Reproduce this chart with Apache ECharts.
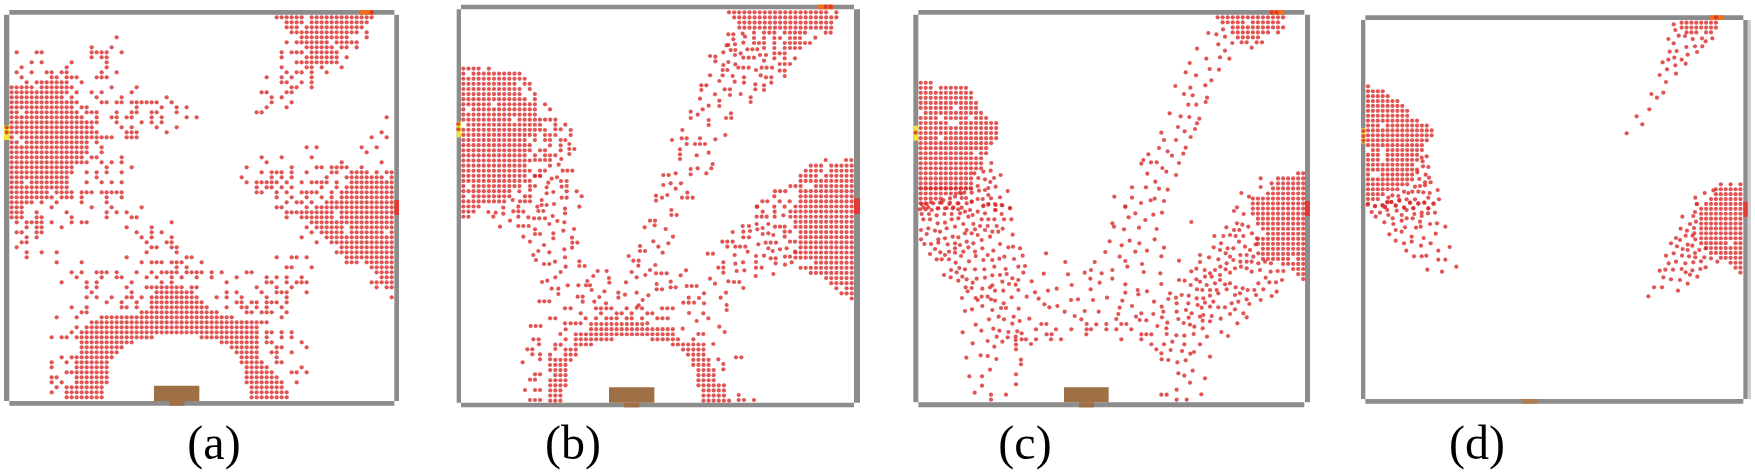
<!DOCTYPE html>
<html lang="en">
<head>
    <meta charset="UTF-8">
    <title>Scatter panels</title>
    <script src="https://cdn.jsdelivr.net/npm/echarts@6/dist/echarts.min.js"></script>
    <style>
        html, body { margin: 0; padding: 0; background: #fff; }
        #main { width: 1755px; height: 474px; }
    </style>
</head>
<body>
<div id="main"></div>
<script>
    // values: 3 units = 1 px of the panel's crop
    var panelLabels = ["(a)", "(b)", "(c)", "(d)"];

    // "row:cols" lists of the packed dot lattice
    var aRows = ["0:53-58 60-72","1:55-58 60-71","2:55-57 59-70","3:56-58 59-69 71","4:21 58-67 71","5:55 57-63 65-69","6:16 20 59-64 66 67 69",
        "7:1 5 6 16-19 22 54 56-58 60-65","8:16 18 19 54 59-65 67","9:4 6 12 19 57-65","10:2 11 19 54 59 60 62 66","11:1 4 7 8 10 11 18 21 55 57 58 60 63",
        "12:2 8 9 11-13 17-19 51 54 56 60","13:3 5-11 14 54 55 58 60","14:0-4 6-12 20 25 56 57 60","15:0-11 13 16 18 24 50 51 55 56","16:0-10 12 17 22 31 52 54",
        "17:0-13 18 19 21 22 24-29 32 52 56","18:0-12 14 15 25 30 33 35 51 55","19:0 1 3-13 15-17 21 24 25 28 29 33 49 50","20:0-14 17 20 21 23 24 28 30 35 37 75",
        "21:0-17 21 26 28 30","22:0-16 22 24 29 33","23:0-17 23-25 31 74","24:0 2-20 23-25 72 75","25:0 1 3-15 17","26:0-15 18 59 61 70 73","27:0-15 18 71",
        "28:0-14 16 17 22 50 54 60","29:0-15 18 20 22 51 66 74","30:0-12 19 24 47 56 61 62 64-67 70","31:0-12 15 17 19 22 50 52-54 56 59 64 65 68-71 73 75 76",
        "32:0-11 17 46 52 54 56 63 67-74 76","33:0-2 4-11 15 18 20 22 47 49-53 55 58 60-63 65 68-76","34:0-11 49 51 52 54 56 62 65 67-76",
        "35:0-7 9-12 14-16 18-22 49 50 53 55 58-61 64 66-76","36:0-8 10-12 14 19 22 53 56 59 62 64 66-76","37:0-4 6 9 14 19 55 57 58 60 63-76",
        "38:0-2 8 16 20 26 53 54 59 61-76","39:0-2 5 11 19 21 23 55-64 66-76","40:0-2 5 6 12 19 24 25 55 58-64 66-76","41:1 3-6 8 12 14 15 32 60-76",
        "42:3 5 6 10 23 28 59 61-66 68-76","43:1 2 5 6 25 28 30 60 62-66 68-74 76","44:3 5 26 28 32 58 63-76","45:2 3 27 31 32 61 64-76","46:1 28 29 32 33 66-76",
        "47:3 6 9 27 33 65-76","48:3 23 35 36 53 56 57 59 67-76","49:9 14 26 28-30 32-34 38 67-69 71-76","50:33 35 55 56 60 72-76",
        "51:12 14 17-19 21 25 28 30-33 35-38 40 42 47 48 73-76","52:13 18 21 22 27 29 32 34 37 40 45 51 53 55 58 74-76","53:10 15 17 24 30 32 43 51 52 55 57-59 72-76",
        "54:15 17 23 27-34 36 37 49 53 56 73 75 76","55:16 24 29-36 43 45 50 53-55 59","56:15 17 20 23 24 26 28-37 41 43 46 51 55 76",
        "57:19 22 25 28-38 45 46 48 49 51-53 55","58:12 15 22 23 25 28-39 43 46 47 49 51 54","59:14 15 26-41 47 48 50-52 55","60:9 13 18-44 54","61:16-51",
        "62:13 15-49","63:12 14-49 51 52 54 56","64:8 10 11 13-28 38-49 51 54 56","65:14-24 42-49 51 52 58","66:14-22 44-49 53 54 59","67:14-21 45-49 52 53 56",
        "68:10 12-20 46-49 53","69:8 11 13-19 46-50 53 54","70:8 13-19 47-51 58","71:11-19 47-52 56 57 59","72:8 9 13-19 47-53","73:8 10 13-19 47-54 57",
        "74:9 11-18 48-54","75:8 11-18 48-55","76:11-18 48-55"];

    var bRows = ["0:52-71 73","1:53-73","2:54-72","3:54-72",
        "11:0-3 5","12:0 2-11","13:0-12","14:0-10 12 13","15:0-11 13","16:0-11 14","17:0-12 14","18:0-5 7-14","19:0 2-14","20:0-14","21:0-9 11-18","22:1-15",
        "23:0-15","24:0-13","25:0-12 14","26:0-13","27:0-13","28:0-12","29:0-13","30:0-12 68-70 72-76","31:0-13 67-70 72-76","32:0-12 14 15 66-69 71-76",
        "33:0-11 13 66-69 70-76","34:0 2-11 64-66 69-76","35:0-9 61-63 66-76","36:0 2-9 66-76","37:0-8 66-76","38:0-3 65-76","39:0-2 64-76","40:0 1 64-76",
        "41:65-76","42:65-76","43:66-76","44:66-76","45:66-76","46:66-76","47:65-76","48:65-76","49:69-76","50:66-76","51:68-76","52:71-76","53:72-76",
        "54:73 75 76","55:74-76","56:76",
        "61:25-35","62:25-41","63:22-41","64:22-29 37-42","65:22-25 41-47","66:20-22 43-47","67:20-22 45-47","68:18-20 45-48","69:18-20 45-48","70:17-20 46-49",
        "71:18-20 46-49","72:17-20 46-49","73:17-20 46-51","74:17-19 47-51","75:17-19 47-51","76:17-19 47-52"];

    var cRows = ["0:59-72","1:60-64 66-71","2:62-72","3:62-69 71","4:63-67",
        "13:0-2","14:0-2 4-9","15:0-10","16:0-10","17:0-11","18:0-6 8-11","19:1-12","20:0-3 5-9 11-13","21:0-5 8-15","22:0-15","23:0-15","24:0-3 5-15","25:0-14",
        "26:0-13","27:0-10 12 13","28:0-12","29:0-12","30:0-12","31:0-10 75 76","32:0-10 71-76","33:0-10 71-76","34:0-10 70-76","35:0-8 69-76","36:0-4 66-76",
        "37:66-76","38:66-76","39:66-76","40:67-76","41:67-76","42:68-76","43:69-76","44:67-76","45:67-76","46:68-76","47:68-76","48:68-73 75 76","49:72-76",
        "50:74-76","51:75 76","52:76"];

    var dRows = ["0:64-71","1:64-71","2:65-67 69 70",
        "13:0","14:0-3","15:0-4","16:0-6","17:0-7","18:0-8","19:0-8","20:0-10","21:0-2 4-12","22:0-13","23:0-13","24:0-12","25:0-11","26:1 2 4-11","27:0-2 4-10",
        "28:0-2 4-10","29:0-9","30:0-10","31:0 3-9","32:0-9","33:0-8 72 74 76","34:0-6 71-76","35:0-3 71-76","36:0-2 70-76","37:0 69-76","38:68-76","39:68-76",
        "40:68-76","41:68-76","42:68-76","43:68-76","44:68-76","45:68-73 75 76","46:69-76","47:70-76","48:72-76","49:74-76","50:75 76","51:76"];

    // loose dots, off the lattice
    var bLoose = [[835,103],[850,103],[878,101],[912,98],[942,98],[958,98],[973,98],[1004,98],[1020,98],[1035,98],[1050,98],[1065,98],[1127,98],[1142,98],
        [850,118],[885,110],[912,114],[942,114],[973,114],[990,114],[1020,114],[1035,114],[1050,114],[1096,113],[835,135],[855,133],[880,128],[912,129],[927,129],[942,129],[973,129],[1004,129],[1020,129],[1035,129],[1050,129],[1065,129],[1080,129],
        [830,136],[842,150],[856,150],[892,148],[907,148],[922,148],[942,144],[973,144],[1004,144],[1020,144],[1035,144],[1050,144],[820,157],[855,165],[872,160],[930,165],[948,165],[973,160],[989,160],[1004,160],
        [780,168],[796,170],[880,173],[896,173],[912,173],[973,175],[1004,175],[1035,175],[796,184],[835,186],[942,182],[856,193],[820,195],[818,210],[832,210],[865,203],[880,203],[896,203],[918,210],[935,203],[950,203],[966,203],[989,192],[1004,192],[1020,192],[989,212],[1004,212],[1004,228],
        [780,226],[818,226],[848,228],[882,232],[932,226],[948,232],[964,232],[808,243],[854,245],[882,248],[964,248],[754,256],[769,256],[916,253],[942,256],[754,270],[824,268],[840,268],[916,268],[942,270],[795,283],[840,285],[872,282],[750,296],[902,292],[808,302],[902,306],[776,317],[808,318],[758,328],[722,335],[743,344],[843,340],[722,354],[828,354],[844,354],[776,360],[776,375],[697,390],[826,405],[666,420],[695,415],[710,415],[750,415],[796,418],[710,432],[735,432],[750,432],[765,432],[690,448],[690,463],[776,458],[740,466],[690,477],[788,492],[722,507],[743,505],[784,505],[640,525],[656,525],[677,520],[722,523],[769,520],[640,555],[662,550],[693,550],[677,566],[712,578],[618,587],[652,585],[636,593],[696,593],[712,593],[728,593],[618,602],[664,630],
        [285,313],[300,328],[316,374],[346,374],[285,390],[316,388],[332,388],[362,390],[255,405],[285,405],[300,405],[316,405],[362,405],[285,420],[300,420],[332,420],[346,420],[300,436],[332,436],[358,432],[270,451],[285,451],[332,451],[358,447],[373,447],[255,466],[285,466],[300,466],[316,466],[358,462],[255,480],[270,480],[285,480],[300,480],[334,477],[300,497],[326,494],[270,512],[285,512],[338,512],[352,512],[367,512],[255,528],[270,528],[305,536],[321,532],[225,543],[295,548],[333,543],[350,543],[240,558],[255,558],[290,562],[350,558],[335,560],[208,574],[240,570],[290,580],[310,576],[350,574],[380,574],[225,589],[240,589],[275,600],[335,593],[350,593],[395,589],[188,600],[210,604],[225,604],[240,604],[160,623],[205,620],[262,620],[275,615],[290,615],[312,612],[345,626],[388,620],
        [1127,480],[1188,480],[1204,480],[973,589],[937,604],[952,604],[989,604],[1019,604],[922,620],[973,620],[1004,620],
        [115,636],[137,638],[160,641],[190,634],[205,634],[220,635],[130,650],[180,662],[205,650],[235,652],[252,655],[268,655],[285,655],[265,633],[280,633],[308,648],[345,640],[322,663],[343,667],[298,672],[150,680],[205,678],[220,678],[236,678],[255,688],[372,687],[340,692],[255,702],[270,702],[310,700],[310,715],[220,710],[240,725],[366,713],[367,728],[382,728],[366,743],[282,735],[343,748],[265,753],[298,757],[250,765],[258,780],[345,772],[315,785],[282,792],[298,792],[388,784],[347,800],[388,798],[404,798],[332,816],[316,832],[292,842],[276,846],[305,866],[325,866],[325,882],[268,904],[283,904],[298,904],[345,925],[362,925],[300,955],[316,955],[345,970],[362,970],[377,970],[392,970],
        [664,645],[680,645],[600,662],[615,662],[614,676],[584,682],[647,687],[669,710],[610,724],[655,730],[570,738],[625,740],[570,753],[585,753],[638,758],[536,768],[550,782],[566,782],[565,797],[616,795],[600,810],[545,816],[470,813],[443,813],[708,811],[430,828],[560,832],[586,825],[618,820],[634,820],[650,820],[692,826],[477,834],[412,843],[478,848],[528,847],[662,845],[353,856],[385,856],[408,856],[420,856],[425,870],[620,852],[636,868],[620,868],[662,862],[677,862],[710,858],[725,858],[740,858],[463,874],[505,878],[525,884],[505,893],[560,878],[595,886],[448,891],[383,890],[398,890],[433,905],[398,905],[468,910],[578,900],[700,908],[716,893],[716,908],[732,908],[747,894],[762,880],[762,910],[812,893],[828,878],
        [438,925],[453,925],[469,925],[484,925],[530,925],[560,923],[566,916],[576,925],[636,925],[652,925],[668,925],[830,915],[830,930],[717,939],[760,940],[392,940],[453,940],[500,940],[515,940],[545,940],[592,940],[607,940],[407,955],[438,955],[469,955],[484,955],[500,955],[530,955],[545,955],[576,955],[622,955],[637,955],[653,955],[775,955],[740,963],[592,970],[347,988],[698,986],[808,980],[331,1002],[745,1002],[760,1002],[824,996],[347,1018],[730,1018],[316,1034],[332,1034],[790,1032],[316,1047],[714,1064],[300,1064],[858,1072],[874,1072],[300,1078],[362,1080],[805,1078],[820,1092],[300,1095],[820,1108],[255,1123],[270,1123],[240,1139],[255,1139],[225,1170],[255,1170],[270,1170],[866,1185],[240,1200],[255,1200],[270,1200],[866,1200],[882,1200],[912,1200],
        [242,978],[257,978],[272,978],[250,1018],[266,1018],[267,1033],[232,1048],[247,1048],[247,1063],[270,1063],[270,1078],[218,1087],
        [920,620],[938,635],[974,635],[1000,646],[920,650],[935,650],[950,650],[974,650],[920,672],[955,672],[938,684],[878,678],[897,678],[880,695],[900,693],[848,696],[880,712],[897,712],[922,688],[938,702],[955,700],[970,705],[975,680],[990,680],[1004,680],[1004,695],[1020,695],[1004,710],[1020,725],[1035,725],[817,725],[832,725],[848,725],[832,740],[856,740],[870,740],[886,740],[925,733],[947,728],[962,728],[978,728],[893,755],[955,745],[968,753],[990,748],[1010,745],[1035,755],[1020,770],[773,761],[789,761],[854,765],[918,768],[942,767],[962,775],[977,775],[1005,770],[820,787],[856,791],[879,787],[918,786],[977,790],[1005,794],[1025,787],[805,803],[820,803],[820,818],[860,813],[883,811],[918,803],[935,803],[970,822],[917,828],[780,836],[795,851],[835,844],[852,846],[868,846],[880,864]];

    var cLoose = [[982,129],[1010,127],[1025,127],[1055,127],[1071,127],[910,99],[934,103],[954,88],[960,110],[940,133],[1040,143],[876,146],[960,152],[904,176],[945,172],[973,176],[854,189],[914,207],[942,209],[842,217],[873,226],[919,241],[811,258],[856,263],[901,256],[837,282],[863,286],[906,293],[902,306],[850,314],[874,314],[794,340],[827,349],[853,351],[883,356],[876,370],[819,381],[870,387],[839,394],[769,398],[857,411],[777,420],[813,420],[762,444],[842,443],[788,454],[801,467],[835,461],[730,463],[715,480],[709,491],[738,487],[755,487],[822,489],[772,504],[784,515],[727,521],[813,525],[751,545],[681,562],[723,562],[762,566],[788,569],[628,590],[681,593],[708,609],[737,601],[749,596],[777,603],[661,620],
        [259,489],[208,520],[235,515],[257,512],[287,525],[220,534],[240,538],[267,534],[256,546],[218,558],[272,560],[47,565],[62,565],[77,565],[92,565],[107,565],[122,565],[137,565],[152,565],[167,565],[182,565],[197,565],
        [222,572],[240,570],[250,564],[308,573],[200,578],[178,578],[165,578],[250,585],[258,595],[285,592],[218,597],[233,597],[200,605],[183,594],[170,594],[150,590],[135,595],[115,600],[47,610],[62,610],[78,607],[105,608],[133,612],[160,610],[185,610],[235,617],[250,612],[270,612],[290,615],[315,624],[55,622],[70,622],[100,625],[120,625],[143,625],[170,623],[195,630],[270,630],
        [50,612],[65,612],[85,610],[110,608],[135,608],[158,610],[200,605],[235,618],[250,614],[272,615],[292,616],[315,625],[45,628],[62,628],[80,630],[98,625],[125,624],[145,622],[160,628],[180,635],[203,645],[218,635],[240,640],[272,630],[290,642],[50,642],[72,642],[95,646],[118,642],[140,642],[165,640],[190,650],[230,658],[250,658],[268,658],[297,658],[319,658],[55,658],[75,658],[98,670],[120,668],[140,658],[160,655],[175,672],[205,672],[225,678],[248,678],[275,678],[293,686],[48,690],[70,685],[90,692],[105,695],[125,685],[150,680],[185,690],[210,688],[240,690],[262,695],[280,695],[323,704],[65,702],[100,718],[120,715],[143,710],[160,712],[180,700],[200,700],[218,705],[255,710],[48,718],[58,732],[78,732],[100,728],[128,733],[150,730],[165,735],[185,725],[205,730],[230,720],[285,732],[90,747],[106,757],[120,765],[132,755],[150,745],[150,758],[175,755],[190,742],[210,755],[232,745],[265,752],[310,742],[324,740],[345,745],[75,762],[95,778],[110,778],[132,778],[152,788],[168,768],[192,784],[212,768],[235,780],[248,765],[262,780],[283,776],[298,770],[327,777],[353,767],[423,760],
        [138,810],[163,804],[180,808],[155,817],[210,808],[238,808],[268,800],[302,807],[340,800],[360,798],[355,818],[117,825],[137,832],[160,842],[172,830],[185,838],[215,836],[240,833],[262,826],[285,825],[305,822],[340,840],[322,835],[380,844],[416,821],[182,862],[188,874],[203,848],[200,864],[232,866],[255,862],[262,856],[270,872],[292,845],[295,872],[312,852],[332,854],[340,870],[390,877],[429,872],[455,866],[171,894],[212,894],[230,890],[218,900],[248,890],[258,898],[270,902],[296,910],[320,892],[365,890],[401,896],[232,918],[180,933],[201,928],[262,930],[288,924],[303,924],[341,926],[418,913],[433,922],[457,918],[252,958],[281,950],[297,958],[326,950],[344,963],[373,956],[212,974],[322,971],[409,972],[424,972],[229,992],[265,986],[283,992],[310,996],[337,994],[350,1000],[393,988],[173,997],[275,1010],[308,1012],[332,1010],[350,1018],[363,1018],[248,1023],[292,1025],[332,1020],[393,1018],[425,1003],[440,1003],[438,1018],[453,988],[468,1018],[203,1030],[268,1040],[333,1034],[378,1032],[333,1048],[184,1073],[227,1066],[248,1068],[274,1077],[348,1079],[348,1093],[255,1109],[193,1129],[231,1129],[333,1123],[231,1157],[333,1153],[209,1178],[258,1184],[303,1184],[258,1199],
        [481,786],[489,823],[569,786],[539,818],[558,810],[590,820],[622,810],[556,836],[622,836],[584,848],[500,855],[557,868],[606,893],[498,900],[519,898],[564,900],[539,933],[581,935],[479,935],[509,948],[529,958],[545,972],[574,973],[604,972],[545,988],[558,988],[604,988],[499,988],[544,1003],[634,988],[649,972],[664,972],[679,988],[634,957],[640,942],[644,923],[652,902],[681,918],[693,950],[709,940],[704,960],[724,961],[745,942],[770,920],[649,1018],[709,1003],[724,1003],[739,1003],[709,1018],[739,1033],[754,1048],[769,1060],[770,1078],[790,1080],[817,1087],[842,1081],[856,1061],[867,1056],[831,1053],[797,1050],[777,1033],[802,1025],[838,1033],[885,1033],[814,1006],[838,1007],[866,1002],[906,1010],[949,996],[969,1008],[785,1002],[784,985],[757,978],[787,968],[893,985],[868,980],[855,974],[836,969],[820,957],[851,953],[771,952],[775,935],[790,897],[795,880],[747,905],[698,870],[700,883],[726,874],[661,853],[661,878],[769,852],[766,820],[716,816],[711,792],[667,800],[661,783],[644,770],[691,755],[726,752],[769,769],[777,743],[749,718],[703,730],[674,722],[650,736],[614,724],[601,756],[622,670],[627,680],[657,688],[702,683],[755,687],[721,660],[745,644],[771,638],[671,652],[691,640],[661,620],[859,666],
        [1067,535],[1067,561],[1100,550],[1009,579],[1032,590],[996,622],[822,782],[822,840],[839,842],[857,855],[874,838],[885,765],[885,786],[874,806],[859,814],[899,810],[912,772],[940,778],[948,730],[926,742],[928,708],[955,708],[964,682],[975,705],[987,690],[1003,690],[996,670],[1016,642],[987,633],[1012,674],[1030,680],[1041,700],[1056,715],[1052,733],[1035,750],[1020,740],[1002,725],[1015,708],[992,708],[968,745],[945,750],[962,760],[975,770],[985,745],[1006,765],[1025,765],[1040,785],[1060,790],[1060,760],[1045,770],[1025,785],[1006,785],[985,780],[965,790],[946,800],[930,810],[915,820],[900,830],[885,845],[920,830],[945,825],[962,808],[975,818],[990,805],[1008,800],[1025,805],[1040,815],[1065,810],[1080,785],[1098,790],[1118,813],[1135,813],[1097,815],[1082,833],[1093,847],[1113,847],[1131,840],[1060,850],[1075,868],[1115,875],[1100,888],[1067,900],[1053,885],[1028,870],[1048,870],[1013,865],[992,862],[975,850],[960,853],[945,840],[930,850],[935,870],[915,870],[892,870],[876,868],[905,855],[851,887],[830,885],[813,893],[875,895],[895,895],[915,887],[940,880],[965,868],[990,885],[1005,880],[1025,898],[1033,912],[1000,905],[980,910],[960,922],[925,905],[900,908],[878,915],[890,923],[915,920],[940,922],[1015,940],[1025,952],[990,928],[975,942],[947,956],[920,948],[915,964],[895,945],[885,950],[893,962],[860,940],[843,930],[815,935],[815,910],[850,910],[997,970],[915,1070],[863,1112],[900,1135],[820,1120],[838,1127],[855,1148],[815,1169],[889,1183],[769,1184],[785,1184],[815,1199],[845,1199]];

    var dLoose = [[956,73],[961,90],[971,107],[990,108],[940,117],[956,130],[1013,117],[1041,115],[1052,124],[1072,115],[994,141],[1020,139],[1042,139],[944,155],[965,153],[1026,156],[998,164],[923,187],[940,179],[958,173],[980,179],[992,191],[961,196],[936,208],[963,221],[914,225],[933,246],[889,282],[906,293],[925,278],[883,328],[845,349],[862,373],[815,400],
        [215,469],[200,473],[203,484],[204,499],[220,501],[187,517],[212,524],[193,537],[222,533],[227,547],[210,547],[180,560],[195,558],[210,556],[248,570],[147,575],[160,579],[172,575],[190,575],[205,577],[224,579],[112,586],[130,588],[100,593],[97,607],[110,606],[133,600],[155,598],[180,598],[220,593],[252,598],[165,608],[190,611],[208,608],[236,611],[60,619],[83,617],[90,622],[122,617],[148,624],[175,624],[220,625],
        [38,614],[50,636],[62,650],[60,618],[75,638],[82,615],[90,620],[97,606],[108,606],[97,630],[100,645],[122,616],[125,632],[133,602],[113,655],[88,667],[115,672],[140,645],[140,662],[155,655],[147,622],[155,630],[165,608],[175,625],[178,642],[173,655],[190,610],[200,638],[200,648],[208,608],[220,625],[219,640],[235,611],[240,638],[195,665],[225,672],[246,670],[271,680],[183,683],[197,680],[150,682],[122,690],[103,703],[140,695],[170,710],[206,714],[242,701],[122,722],[147,730],[170,725],[198,737],[227,730],[284,741],[154,752],[250,752],[177,769],[200,769],[214,767],[250,779],[271,779],[304,800],[217,809],[261,815],
        [1075,571],[1049,579],[1021,593],[1025,612],[1026,612],[1015,648],[1020,636],[982,650],[1023,665],[1005,672],[977,686],[1017,684],[996,692],[1018,700],[1013,707],[992,707],[963,714],[975,720],[1021,718],[948,730],[966,739],[998,734],[1012,737],[983,747],[998,750],[1033,750],[1052,745],[933,767],[956,760],[981,767],[1002,769],[1020,759],[1021,772],[1048,772],[1068,775],[1038,784],[941,790],[963,785],[991,790],[1015,787],[1087,785],[914,812],[931,809],[954,809],[980,807],[992,817],[1005,824],[1012,811],[1036,807],[1052,802],[925,832],[948,838],[975,840],[1027,830],[998,851],[897,862],[921,862],[969,872],[880,889]];

    // dots sitting on the coloured doors
    var aDoorDots = [[20,382],[20,397],[1115,37]];
    var bDoorDots = [[25,372],[25,388],[1127,20],[1142,20]];
    var cDoorDots = [[32,398],[1100,37],[1115,37]];
    var dDoorDots = [[25,393],[25,408],[25,422],[1083,52]];

    // boxes as [x0, y0, x1, y1] in the same units
    var aWalls = [[28,30,1183,44],[12,44,28,1203],[1183,44,1197,1203],[28,1203,1183,1217]];
    var bWalls = [[33,14,1212,28],[20,28,33,1208],[1212,28,1230,1208],[33,1208,1212,1222]];
    var cWalls = [[40,30,1198,44],[25,44,40,1207],[1200,44,1215,1207],[40,1207,1198,1222]];
    var dWalls = [[31,46,1165,60],[18,60,31,1197],[1165,60,1178,1197],[31,1197,1165,1211]];
    var aYellow = [[12,375,28,420]], bYellow = [[20,365,34,412]], cYellow = [[25,377,40,422]], dYellow = [[18,385,31,430]];
    var aOrange = [[1078,30,1122,44]], bOrange = [[1104,14,1150,28]], cOrange = [[1092,30,1138,44]], dOrange = [[1062,46,1106,60]];
    var aRed = [[1183,600,1197,645]], bRed = [[1212,595,1230,642]], cRed = [[1200,603,1215,648]], dRed = [[1165,605,1178,651]];
    var aBrown = [[462,1157,598,1203],[508,1203,553,1217]];
    var bBrown = [[477,1162,613,1208],[522,1208,568,1222]];
    var cBrown = [[477,1162,611,1207],[522,1207,567,1222]];
    var dBrown = [[502,1197,547,1211]];
    var dStrip = [[1178,60,1188,1197]];

    function expandRows(rows, x0, y0, step) {
        var out = [];
        rows.forEach(function (r) {
            var parts = r.split(":");
            var row = +parts[0];
            parts[1].split(" ").forEach(function (s) {
                var ends = s.split("-");
                var from = +ends[0], to = +ends[ends.length - 1];
                for (var c = from; c <= to; c++) {
                    out.push([x0 + c * step, y0 + row * step]);
                }
            });
        });
        return out;
    }

    function rectSeries(idx, data, color) {
        return {
            type: "custom",
            xAxisIndex: idx,
            yAxisIndex: idx,
            silent: true,
            clip: false,
            animation: false,
            data: data,
            encode: {x: [0, 2], y: [1, 3]},
            renderItem: function (params, api) {
                var a = api.coord([api.value(0), api.value(1)]);
                var b = api.coord([api.value(2), api.value(3)]);
                return {
                    type: "rect",
                    shape: {x: a[0], y: a[1], width: b[0] - a[0], height: b[1] - a[1]},
                    style: {fill: color}
                };
            }
        };
    }

    function dotSeries(idx, data) {
        return {
            type: "scatter",
            xAxisIndex: idx,
            yAxisIndex: idx,
            silent: true,
            animation: false,
            large: false,
            symbolSize: 4.2,
            itemStyle: {color: "#d92a2a"},
            data: data
        };
    }

    var panels = [
        {left: 0, width: 410, dots: expandRows(aRows, 35, 52, 15).concat(aDoorDots),
            walls: aWalls, yellow: aYellow, orange: aOrange, red: aRed, brown: aBrown},
        {left: 450, width: 410, dots: expandRows(bRows, 40, 37, 15.33).concat(bLoose, bDoorDots),
            walls: bWalls, yellow: bYellow, orange: bOrange, red: bRed, brown: bBrown},
        {left: 905, width: 410, dots: expandRows(cRows, 47, 52, 15.1).concat(cLoose, cDoorDots),
            walls: cWalls, yellow: cYellow, orange: cOrange, red: cRed, brown: cBrown},
        {left: 1355, width: 400, dots: expandRows(dRows, 39, 68, 14.7).concat(dLoose, dDoorDots),
            walls: dWalls, yellow: dYellow, orange: dOrange, red: dRed, brown: dBrown}
    ];
    var labelCenters = [214, 573, 1025, 1477];

    var grids = [], xAxes = [], yAxes = [], series = [], titles = [];
    panels.forEach(function (p, i) {
        grids.push({left: p.left, top: 0, width: p.width, height: 474});
        xAxes.push({type: "value", gridIndex: i, min: 0, max: p.width * 3, show: false});
        yAxes.push({type: "value", gridIndex: i, min: 0, max: 1422, inverse: true, show: false});
        if (i === 3) series.push(rectSeries(i, dStrip, "#cfcfcf"));
        series.push(rectSeries(i, p.walls, "#8c8c8c"));
        series.push(rectSeries(i, p.yellow, "#efe93c"));
        series.push(rectSeries(i, p.orange, "#f0701e"));
        series.push(rectSeries(i, p.red, "#e23a34"));
        series.push(rectSeries(i, p.brown, i === 3 ? "#b07d50" : "#9f6f46"));
        series.push(dotSeries(i, p.dots));
        titles.push({
            text: panelLabels[i],
            left: labelCenters[i],
            top: 422,
            textAlign: "center",
            padding: 0,
            textStyle: {fontFamily: "Liberation Serif", fontWeight: "normal", fontSize: 48, color: "#000"}
        });
    });

    var MyChart = echarts.init(document.getElementById("main"), null, {renderer: "canvas"});
    MyChart.setOption({
        backgroundColor: "#fff",
        animation: false,
        title: titles,
        grid: grids,
        xAxis: xAxes,
        yAxis: yAxes,
        series: series
    });
</script>
</body>
</html>
